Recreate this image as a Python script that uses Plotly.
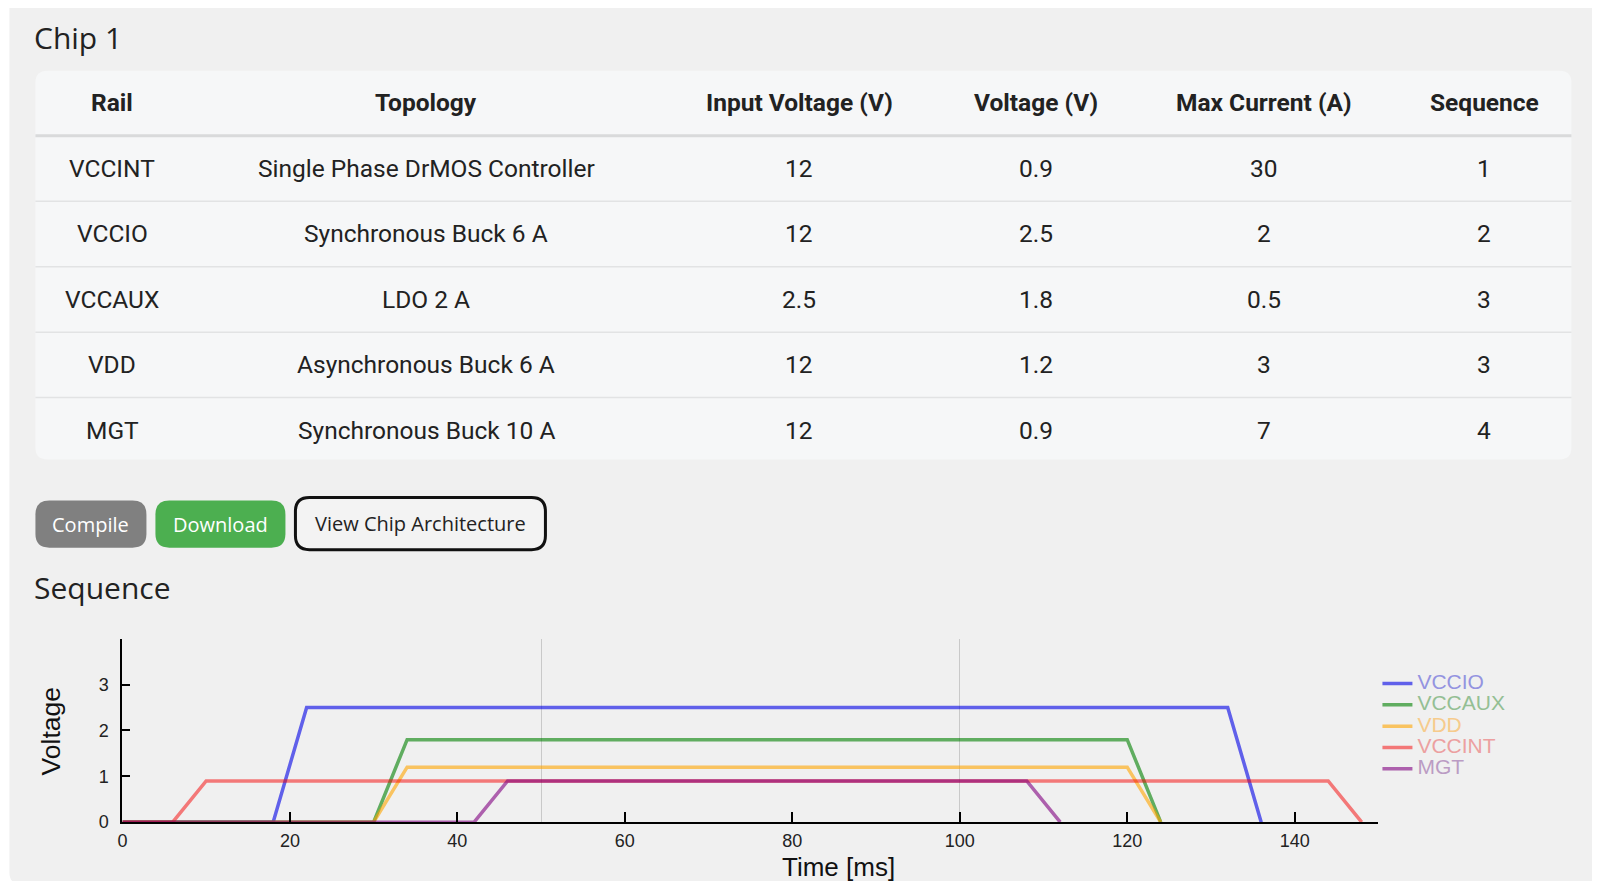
import plotly.graph_objects as go

# page body keeps its 8px margin, so the figure is sized to fit inside it
OFF = 8
W, H = 1600 - 2 * OFF, 889 - 2 * OFF

# table data
columns = ["Rail", "Topology", "Input Voltage (V)", "Voltage (V)", "Max Current (A)", "Sequence"]
rails = ["VCCINT", "VCCIO", "VCCAUX", "VDD", "MGT"]
topology = ["Single Phase DrMOS Controller", "Synchronous Buck 6 A", "LDO 2 A",
            "Asynchronous Buck 6 A", "Synchronous Buck 10 A"]
input_voltage = ["12", "12", "2.5", "12", "12"]
voltage = ["0.9", "2.5", "1.8", "1.2", "0.9"]
max_current = ["30", "2", "0.5", "3", "7"]
sequence = ["1", "2", "3", "3", "4"]

# sequence chart data (time in ms, voltage in V)
vccio_t = [0, 18, 22, 132, 136]
vccio_v = [0, 0, 2.5, 2.5, 0]
vccaux_t = [0, 30, 34, 120, 124]
vccaux_v = [0, 0, 1.8, 1.8, 0]
vdd_t = [0, 30, 34, 120, 124]
vdd_v = [0, 0, 1.2, 1.2, 0]
vccint_t = [0, 6, 10, 144, 148]
vccint_v = [0, 0, 0.9, 0.9, 0]
mgt_t = [0, 42, 46, 108, 112]
mgt_v = [0, 0, 0.9, 0.9, 0]

x_ticks = [0, 20, 40, 60, 80, 100, 120, 140]
y_ticks = [0, 1, 2, 3, 4]
y_ticktext = ["0", "1", "2", "3", ""]
grid_ticks = [50, 100, 150]


# page pixel -> paper fraction (with a small calibration)
def px(x):
    x = x - 4.5 * (1454 - x) / 1420
    return (x - OFF) / W


def py(y):
    y = 37 + (y - 37) * 1.0135
    return 1 - (y - OFF) / H


def rrect(x0, y0, x1, y1, r):
    rx, ry = r / W, r / H
    X0, X1, Y0, Y1 = px(x0), px(x1), py(y0), py(y1)
    return (f"M{X0+rx},{Y0} L{X1-rx},{Y0} Q{X1},{Y0} {X1},{Y0-ry} "
            f"L{X1},{Y1+ry} Q{X1},{Y1} {X1-rx},{Y1} L{X0+rx},{Y1} "
            f"Q{X0},{Y1} {X0},{Y1+ry} L{X0},{Y0-ry} Q{X0},{Y0} {X0+rx},{Y0} Z")


def label(x, y, text, font, **kw):
    d = dict(x=px(x), y=py(y), xref="paper", yref="paper", text=text, showarrow=False,
             xanchor="center", yanchor="middle", font=font)
    d.update(kw)
    return d


fig = go.Figure()

series = [
    ("VCCIO", vccio_t, vccio_v, "rgba(0,0,230,0.6)", "#9494e0"),
    ("VCCAUX", vccaux_t, vccaux_v, "rgba(0,128,0,0.6)", "#94bf94"),
    ("VDD", vdd_t, vdd_v, "rgba(255,165,0,0.6)", "#f6cb8c"),
    ("VCCINT", vccint_t, vccint_v, "rgba(245,0,0,0.5)", "#eca0a0"),
    ("MGT", mgt_t, mgt_v, "rgba(128,0,128,0.6)", "#bb9cc4"),
]
for name, t, v, col, txtcol in series:
    fig.add_trace(go.Scatter(
        x=t, y=v, mode="lines", line=dict(color=col, width=3.5),
        name=f"<span style='color:{txtcol};font-size:21px'>{name}</span>",
        hoverinfo="x+y"))

# empty trace so the grid overlay axis exists
fig.add_trace(go.Scatter(x=[], y=[], xaxis="x2", showlegend=False, hoverinfo="skip"))

shapes = []
annotations = []

# card and table background
shapes.append(dict(type="path", path=rrect(9, -4, 1600, 883, 12), xref="paper", yref="paper",
                   fillcolor="#f0f0f0", line=dict(width=0), layer="below"))
shapes.append(dict(type="path", path=rrect(35, 71, 1571, 459, 12), xref="paper", yref="paper",
                   fillcolor="#f6f7f8", line=dict(width=0), layer="below"))

header_y = 103
row_top = 136
row_h = 65.3
col_x = [112, 426, 799, 1036, 1264, 1484]
cell_font = dict(family="Roboto", size=24.5, color="#222222")

shapes.append(dict(type="line", x0=px(35), x1=px(1571), y0=py(row_top), y1=py(row_top),
                   xref="paper", yref="paper", line=dict(color="#d9dadb", width=3), layer="below"))
for i in range(1, len(rails)):
    yy = row_top + i * row_h
    shapes.append(dict(type="line", x0=px(35), x1=px(1571), y0=py(yy), y1=py(yy),
                       xref="paper", yref="paper", line=dict(color="#e2e3e4", width=1.5),
                       layer="below"))

for cx, head in zip(col_x, columns):
    annotations.append(label(cx, header_y, f"<b>{head}</b>", cell_font))

table_cols = [rails, topology, input_voltage, voltage, max_current, sequence]
for cx, col in zip(col_x, table_cols):
    for i, val in enumerate(col):
        annotations.append(label(cx, row_top + (i + 0.5) * row_h, val, cell_font))

# headings
for txt, yy in [("Chip 1", 38), ("Sequence", 587)]:
    annotations.append(label(32, yy, txt, dict(family="Open Sans", size=30, color="#222222"),
                             xanchor="left"))

# buttons
buttons = [
    ("Compile", 35, 500, 146, 547, "#808080", "#808080", 0, "white"),
    ("Download", 155, 500, 285, 547, "#4caf50", "#4caf50", 0, "white"),
    ("View Chip Architecture", 295, 497, 545, 549, "#f3f3f3", "#111111", 3, "#222222"),
]
for text, x0, y0, x1, y1, fill, edge, lw, tcol in buttons:
    shapes.append(dict(type="path", path=rrect(x0, y0, x1, y1, 14), xref="paper", yref="paper",
                       fillcolor=fill, line=dict(color=edge, width=lw), layer="below"))
    annotations.append(label((x0 + x1) / 2, (y0 + y1) / 2, text,
                             dict(family="Open Sans", size=20, color=tcol)))

# axis titles
annotations.append(label(838, 866, "Time [ms]",
                         dict(family="Liberation Sans", size=26, color="#111111")))
annotations.append(label(51, 730, "Voltage",
                         dict(family="Liberation Sans", size=26.5, color="#111111"),
                         textangle=-90))

tickfont = dict(family="Liberation Sans", size=18, color="#222222")

fig.update_layout(
    width=W, height=H,
    margin=dict(l=0, r=0, t=0, b=0),
    paper_bgcolor="white",
    plot_bgcolor="rgba(0,0,0,0)",
    shapes=shapes,
    annotations=annotations,
    xaxis=dict(domain=[px(122), px(1378)], range=[0, 150], tickvals=x_ticks,
               ticks="inside", ticklen=10, tickwidth=1.5, tickcolor="black",
               showline=True, linecolor="black", linewidth=2, showgrid=False,
               zeroline=False, tickfont=tickfont, ticklabelstandoff=1, fixedrange=True),
    xaxis2=dict(overlaying="x", anchor="y", range=[0, 150], tickvals=grid_ticks,
                showgrid=True, gridcolor="#c9c9c9", gridwidth=1, ticks="",
                showticklabels=False, showline=False, zeroline=False),
    yaxis=dict(domain=[py(821), py(638)], range=[0, 4], tickvals=y_ticks,
               ticktext=y_ticktext, ticks="inside", ticklen=8, tickwidth=1.5,
               tickcolor="black", showline=True, linecolor="black", linewidth=2,
               showgrid=False, zeroline=False, tickfont=tickfont,
               ticklabelstandoff=8, fixedrange=True),
    legend=dict(x=px(1377), y=py(667), xanchor="left", yanchor="top",
                font=dict(family="Liberation Sans", size=14.1, color="#888888"),
                bgcolor="rgba(0,0,0,0)", tracegroupgap=0, itemwidth=30),
    showlegend=True,
)

fig.write_html("out.html")
